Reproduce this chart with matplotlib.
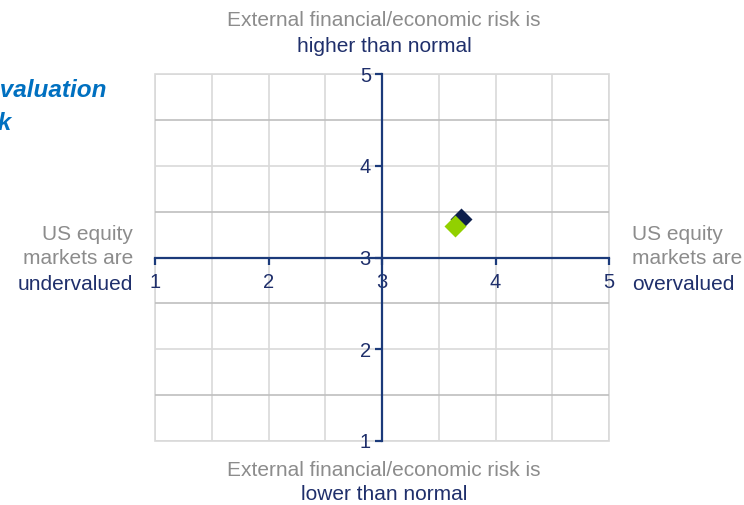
import numpy as np
import matplotlib.pyplot as plt
from matplotlib.patches import Rectangle

plt.rcParams['font.family'] = ['Liberation Sans', 'DejaVu Sans']

# Data (valuation score, external risk score)
series_names = ['Previous', 'Current']
valuation = [3.70, 3.64]
external_risk = [3.42, 3.34]
series_colors = ['#0D1F4C', '#92D000']

x_ticks = [1, 2, 3, 4, 5]
y_ticks = [1, 2, 3, 4, 5]

navy = '#1F2F6B'
axis_navy = '#1B3A7A'
gray_text = '#8C8C8C'

W, H = 744, 505
fig = plt.figure(figsize=(W / 100, H / 100), dpi=100)
ax = fig.add_axes([155 / W, 1 - 441 / H, (609 - 155) / W, (441 - 74) / H])

ax.set_xlim(1, 5)
ax.set_ylim(1, 5)

# gridlines: integer lines light, half lines on y a bit darker
ax.set_xticks(x_ticks)
ax.set_yticks(y_ticks)
ax.set_xticks(np.arange(1.5, 5, 1), minor=True)
ax.set_yticks(np.arange(1.5, 5, 1), minor=True)
ax.grid(which='major', color='#D9D9D9', lw=1.2)
ax.grid(which='minor', axis='x', color='#D9D9D9', lw=1.2)
ax.grid(which='minor', axis='y', color='#BFBFBF', lw=1.2)
ax.set_axisbelow(True)
ax.tick_params(which='minor', length=0)

# light frame around plot area
ax.add_patch(Rectangle((0, 0), 1, 1, transform=ax.transAxes, fill=False,
                       edgecolor='#D9D9D9', lw=1.2, clip_on=False, zorder=0))

# axes crossing at (3, 3)
for s in ['top', 'right']:
    ax.spines[s].set_visible(False)
ax.spines['bottom'].set_position(('data', 3))
ax.spines['left'].set_position(('data', 3))
ax.spines['bottom'].set_color(axis_navy)
ax.spines['left'].set_color(axis_navy)
ax.spines['bottom'].set_linewidth(1.6)
ax.spines['left'].set_linewidth(1.6)
ax.tick_params(which='major', axis='x', direction='out', length=5, width=1.6,
               color=axis_navy, labelcolor=navy, labelsize=14.5, pad=6)
ax.tick_params(which='major', axis='y', direction='out', length=5, width=1.6,
               color=axis_navy, labelcolor=navy, labelsize=14.5, pad=3)

for x, y, c, name in zip(valuation, external_risk, series_colors, series_names):
    ax.plot(x, y, marker='D', ms=11.5, color=c, mec='none', ls='none',
            label=name, zorder=5, clip_on=False)

# surrounding annotations
fs = 15
fig.text(384 / W, 1 - 20 / H, 'External financial/economic risk is', color=gray_text,
         fontsize=fs, ha='center', va='center')
fig.text(384 / W, 1 - 46 / H, 'higher than normal', color=navy,
         fontsize=fs, ha='center', va='center')
fig.text(384 / W, 1 - 470 / H, 'External financial/economic risk is', color=gray_text,
         fontsize=fs, ha='center', va='center')
fig.text(384 / W, 1 - 495 / H, 'lower than normal', color=navy,
         fontsize=fs, ha='center', va='center')

fig.text(133 / W, 1 - 234 / H, 'US equity', color=gray_text, fontsize=fs, ha='right', va='center')
fig.text(133 / W, 1 - 259 / H, 'markets are', color=gray_text, fontsize=fs, ha='right', va='center')
fig.text(133 / W, 1 - 284 / H, 'undervalued', color=navy, fontsize=fs, ha='right', va='center')

fig.text(632 / W, 1 - 234 / H, 'US equity', color=gray_text, fontsize=fs, ha='left', va='center')
fig.text(632 / W, 1 - 259 / H, 'markets are', color=gray_text, fontsize=fs, ha='left', va='center')
fig.text(632 / W, 1 - 284 / H, 'overvalued', color=navy, fontsize=fs, ha='left', va='center')

# title, cut off at the left edge as in the reference
fig.text(106 / W, 1 - 97 / H, 'US equity valuation', color='#0070C0', fontsize=17.5,
         fontweight='bold', fontstyle='italic', ha='right', va='baseline')
fig.text(12 / W, 1 - 130 / H, 'risk', color='#0070C0', fontsize=17.5,
         fontweight='bold', fontstyle='italic', ha='right', va='baseline')

fig.savefig('out.png', dpi=100)
